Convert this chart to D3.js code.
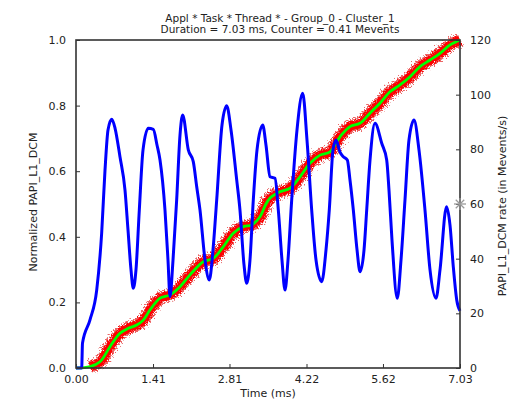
<!DOCTYPE html>
<html>
<head>
<meta charset="utf-8">
<script src="https://cdn.jsdelivr.net/npm/d3@7"></script>
<style>
body { margin: 0; background: #fff; }
text { font-family: "DejaVu Sans", sans-serif; fill: #222; }
</style>
</head>
<body>
<svg width="527" height="401"></svg>
<script>
var width = 527, height = 401;
var margin = {left: 76, right: 67, top: 40, bottom: 33};

// blue line: event rate (Mevents/s), right axis
var rateTime = [0, 0.104, 0.119, 0.256, 0.379, 0.470, 0.531, 0.586, 0.654, 0.714, 0.805, 0.897, 0.952, 1.007, 1.049, 1.098,
    1.159, 1.227, 1.324, 1.415, 1.483, 1.538, 1.629, 1.684, 1.721, 1.776, 1.843, 1.904, 1.953, 2.056, 2.147, 2.210,
    2.270, 2.362, 2.440, 2.508, 2.576, 2.673, 2.759, 2.838, 2.942, 3.002, 3.076, 3.125, 3.185, 3.246, 3.314, 3.418,
    3.478, 3.552, 3.643, 3.704, 3.771, 3.826, 3.881, 3.949, 4.046, 4.150, 4.229, 4.315, 4.394, 4.498, 4.577, 4.637,
    4.705, 4.760, 4.833, 4.894, 4.967, 5.016, 5.077, 5.145, 5.200, 5.273, 5.322, 5.383, 5.474, 5.597, 5.688, 5.730,
    5.785, 5.882, 5.950, 6.023, 6.096, 6.188, 6.279, 6.389, 6.481, 6.591, 6.664, 6.783, 6.847, 6.907, 6.970, 7.03];
var rateValue = [0, 0, 9.1, 17.6, 28.5, 49.4, 72.4, 87.1, 91.0, 87.8, 77.3, 65.1, 50.5, 35.9, 29.2, 35.9,
    57.8, 79.8, 87.7, 87.3, 81.6, 76.1, 57.8, 39.5, 26.1, 39.5, 61.5, 85.2, 92.6, 79.8, 75.5, 66.3,
    57.8, 39.5, 32.2, 43.2, 61.5, 88.9, 95.9, 87.1, 68.8, 57.8, 37.7, 31.0, 39.5, 61.5, 79.8, 88.9,
    81.6, 70.0, 69.4, 57.8, 39.5, 28.5, 39.5, 61.5, 87.1, 100.5, 83.4, 57.8, 39.5, 31.6, 43.2, 57.8,
    79.8, 83.4, 79.0, 77.3, 76.1, 68.8, 57.8, 43.2, 35.2, 43.2, 57.8, 76.1, 89.5, 82.2, 76.1, 65.1,
    46.8, 25.5, 39.5, 61.5, 83.4, 90.7, 79.8, 57.8, 35.9, 25.5, 35.9, 59.0, 52.3, 37.1, 24.9, 20.9];

// green line: normalized cumulative counter, left axis
var cumTime = [0, 0.256, 0.439, 0.622, 0.805, 0.957, 1.111, 1.232, 1.355, 1.538, 1.721, 1.904, 2.087, 2.330, 2.514,
    2.697, 2.880, 3.063, 3.217, 3.368, 3.460, 3.552, 3.735, 3.918, 4.101, 4.284, 4.467, 4.650, 4.833, 5.016, 5.199,
    5.382, 5.565, 5.748, 5.931, 6.115, 6.298, 6.481, 6.664, 6.847, 7.03];
var cumValue = [0, 0.004, 0.019, 0.065, 0.106, 0.121, 0.131, 0.146, 0.177, 0.213, 0.223, 0.248, 0.284, 0.324, 0.334,
    0.370, 0.411, 0.431, 0.436, 0.461, 0.494, 0.518, 0.537, 0.548, 0.583, 0.624, 0.649, 0.659, 0.705, 0.736, 0.746,
    0.777, 0.807, 0.842, 0.863, 0.888, 0.919, 0.939, 0.959, 0.985, 1.0];

var xTicks = [0, 1.41, 2.81, 4.22, 5.62, 7.03];
var leftTicks = [0, 0.2, 0.4, 0.6, 0.8, 1.0];
var rightTicks = [0, 20, 40, 60, 80, 100, 120];
var markerTime = 7.03, markerRate = 60;

var titleLines = ['Appl * Task * Thread * - Group_0 - Cluster_1', 'Duration = 7.03 ms, Counter = 0.41 Mevents'];

var svg = d3.select('svg');
var x = d3.scaleLinear().domain([0, 7.03]).range([margin.left, width - margin.right]);
var yL = d3.scaleLinear().domain([0, 1]).range([height - margin.bottom, margin.top]);
var yR = d3.scaleLinear().domain([0, 120]).range([height - margin.bottom, margin.top]);

var defs = svg.append('defs');
var f = defs.append('filter').attr('id', 'fuzz').attr('x', '-10%').attr('y', '-10%').attr('width', '120%').attr('height', '120%');
f.append('feTurbulence').attr('type', 'fractalNoise').attr('baseFrequency', 0.8).attr('numOctaves', 2).attr('seed', 3).attr('result', 'n');
f.append('feDisplacementMap').attr('in', 'SourceGraphic').attr('in2', 'n').attr('scale', 5);
var f2 = defs.append('filter').attr('id', 'fuzz2').attr('x', '-10%').attr('y', '-10%').attr('width', '120%').attr('height', '120%');
f2.append('feTurbulence').attr('type', 'fractalNoise').attr('baseFrequency', 0.7).attr('numOctaves', 2).attr('seed', 8).attr('result', 'n');
f2.append('feDisplacementMap').attr('in', 'SourceGraphic').attr('in2', 'n').attr('scale', 9);

var cum = cumTime.map(function (t, i) { return [t, cumValue[i]]; });
var rate = rateTime.map(function (t, i) { return [t, rateValue[i]]; });

var cumLine = d3.line()
    .x(function (d) { return x(d[0]); })
    .y(function (d) { return yL(d[1]); })
    .curve(d3.curveCatmullRom.alpha(0.5));
var rateLine = d3.line()
    .x(function (d) { return x(d[0]); })
    .y(function (d) { return yR(d[1]); })
    .curve(d3.curveMonotoneX);

// samples cloud
svg.append('path').datum(cum.slice(1))
    .attr('d', cumLine).attr('fill', 'none')
    .attr('stroke', '#bbb').attr('stroke-opacity', 0.7).attr('stroke-width', 12)
    .attr('filter', 'url(#fuzz2)');
svg.append('path').datum(cum.slice(1))
    .attr('d', cumLine).attr('fill', 'none')
    .attr('stroke', '#ff1a1a').attr('stroke-opacity', 0.6).attr('stroke-width', 12)
    .attr('filter', 'url(#fuzz2)');
svg.append('path').datum(cum.slice(1))
    .attr('d', cumLine).attr('fill', 'none')
    .attr('stroke', '#ff0000').attr('stroke-width', 9)
    .attr('filter', 'url(#fuzz)');

svg.append('path').datum(cum)
    .attr('d', cumLine).attr('fill', 'none')
    .attr('stroke', '#00ff00').attr('stroke-width', 2.8);

svg.append('path').datum(rate)
    .attr('d', rateLine).attr('fill', 'none')
    .attr('stroke', '#0000ff').attr('stroke-width', 3)
    .attr('stroke-linejoin', 'round');

// frame
svg.append('rect')
    .attr('x', margin.left).attr('y', margin.top)
    .attr('width', width - margin.left - margin.right)
    .attr('height', height - margin.top - margin.bottom)
    .attr('fill', 'none').attr('stroke', '#333').attr('stroke-width', 1.6);

var xAxis = svg.append('g').attr('transform', 'translate(0,' + (height - margin.bottom) + ')')
    .call(d3.axisBottom(x).tickValues(xTicks).tickFormat(d3.format('.2f')).tickSizeInner(-4).tickSizeOuter(0).tickPadding(5));
var lAxis = svg.append('g').attr('transform', 'translate(' + margin.left + ',0)')
    .call(d3.axisLeft(yL).tickValues(leftTicks).tickFormat(d3.format('.1f')).tickSizeInner(-4).tickSizeOuter(0).tickPadding(10));
var rAxis = svg.append('g').attr('transform', 'translate(' + (width - margin.right) + ',0)')
    .call(d3.axisRight(yR).tickValues(rightTicks).tickSizeInner(-4).tickSizeOuter(0).tickPadding(10));

[xAxis, lAxis, rAxis].forEach(function (a) {
    a.select('.domain').remove();
    a.selectAll('line').attr('stroke', '#333');
    a.selectAll('text').style('font-family', '"DejaVu Sans", sans-serif').style('font-size', '11px').attr('fill', '#222');
});
xAxis.selectAll('text').attr('dy', '0.95em');

// gray star marker
var mx = x(markerTime), my = yR(markerRate);
var star = svg.append('g').attr('stroke', '#999').attr('stroke-width', 1.3);
[0, 45, 90, 135].forEach(function (a) {
    var r = 6, c = Math.cos(a * Math.PI / 180) * r, s = Math.sin(a * Math.PI / 180) * r;
    star.append('line').attr('x1', mx - c).attr('y1', my - s).attr('x2', mx + c).attr('y2', my + s);
});

// labels
svg.append('text').attr('x', (margin.left + width - margin.right) / 2).attr('y', 397)
    .attr('text-anchor', 'middle').style('font-size', '11px').text('Time (ms)');
svg.append('text').attr('transform', 'translate(37,' + ((margin.top + height - margin.bottom) / 2 - 2) + ') rotate(-90)')
    .attr('text-anchor', 'middle').style('font-size', '11px').text('Normalized PAPI_L1_DCM');
svg.append('text').attr('transform', 'translate(506,' + ((margin.top + height - margin.bottom) / 2 + 2) + ') rotate(-90)')
    .attr('text-anchor', 'middle').style('font-size', '11px').text('PAPI_L1_DCM rate (in Mevents/s)');

svg.selectAll('.title').data(titleLines).join('text')
    .attr('class', 'title')
    .attr('x', 280).attr('y', function (d, i) { return 21.5 + i * 11; })
    .attr('text-anchor', 'middle').style('font-size', '10.5px')
    .text(function (d) { return d; });
</script>
</body>
</html>
